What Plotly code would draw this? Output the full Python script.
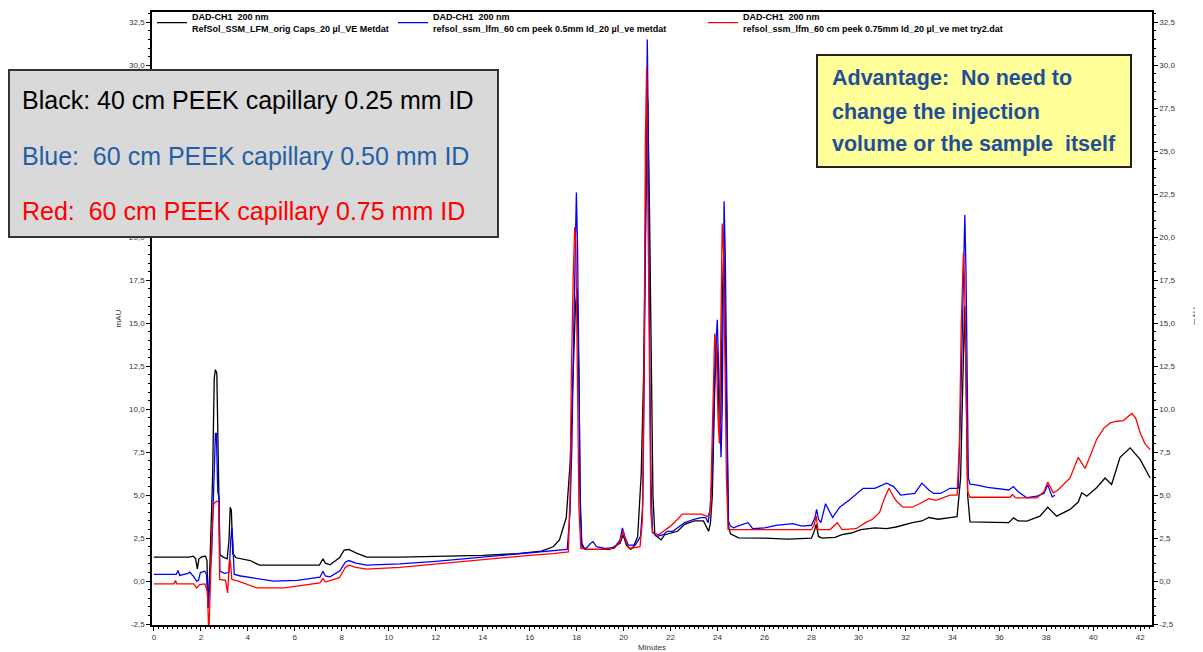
import plotly.graph_objects as go

# ---------------- data ----------------
black_t = [0.0, 1.5, 1.68, 1.78, 1.85, 1.92, 2.05, 2.2, 2.26, 2.31, 2.36, 2.42, 2.5, 2.57, 2.62, 2.68, 2.72, 2.77, 2.81,
           2.95, 3.12, 3.2, 3.25, 3.3, 3.36, 3.5, 4.1, 4.5, 7.05, 7.2, 7.3, 7.5, 7.9, 8.1, 8.3, 8.6, 9.06, 10.5,
           12.0, 14.0, 15.5, 16.5, 17.0, 17.27, 17.56, 17.73, 17.85, 17.95, 18.02, 18.1, 18.15, 18.22, 18.35,
           18.8, 19.4, 19.85, 19.98, 20.12, 20.3, 20.42, 20.6, 20.75, 20.85, 20.95, 21.03, 21.1, 21.17, 21.25, 21.33,
           21.5, 21.6, 21.75, 22.0, 22.3, 22.6, 23.0, 23.4, 23.55, 23.62, 23.7, 23.78, 23.86, 23.94, 24.0, 24.08,
           24.14, 24.2, 24.27, 24.33, 24.4, 24.47, 24.55, 24.9, 26.0, 27.0, 28.0, 28.12, 28.2, 28.3, 28.45, 29.0,
           29.3, 29.7, 30.1, 30.7, 31.2, 31.6, 32.3, 32.7, 33.0, 33.4, 33.9, 34.2, 34.35, 34.45, 34.52, 34.58,
           34.65, 34.75, 36.4, 36.6, 36.8, 37.17, 37.73, 38.06, 38.2, 38.44, 39.01, 39.36, 39.51, 39.72, 40.14,
           40.5, 40.78, 41.14, 41.57, 42.0, 42.42]
black_v = [1.40, 1.40, 1.45, 1.3, 0.72, 1.3, 1.42, 1.45, 1.2, -1.55, -0.2, 2.3, 6.0, 11.8, 12.3, 12.1, 9.0, 4.0, 1.55,
           1.4, 1.3, 2.4, 4.3, 4.1, 1.6, 1.36, 1.2, 0.93, 0.93, 1.3, 1.05, 0.95, 1.36, 1.8, 1.84, 1.65, 1.4, 1.4,
           1.45, 1.5, 1.6, 1.75, 2.0, 2.4, 3.7, 7.0, 12.0, 16.0, 17.0, 12.0, 5.0, 2.2, 1.85,
           1.85, 1.85, 2.2, 2.7, 2.1, 1.85, 2.0, 2.6, 6.2, 11.9, 22.0, 28.0, 22.0, 13.0, 5.0, 2.7,
           2.5, 2.4, 2.7, 2.8, 2.9, 3.3, 3.5, 3.5, 3.1, 2.9, 3.4, 5.0, 10.0, 14.0, 13.0, 9.0,
           9.5, 16.0, 19.5, 15.0, 8.0, 3.2, 2.75, 2.52, 2.5, 2.45, 2.5, 2.9, 3.3, 2.6, 2.5, 2.55,
           2.7, 2.8, 3.0, 3.1, 3.05, 3.15, 3.4, 3.5, 3.7, 3.6, 3.7, 3.75, 6.0, 12.0, 16.0, 12.0,
           5.0, 3.45, 3.4, 3.68, 3.5, 3.49, 3.78, 4.3, 4.1, 3.78, 4.17, 4.6, 5.14, 4.94, 5.43,
           6.0, 5.62, 7.2, 7.75, 7.07, 6.0]

blue_t = [0.0, 0.95, 1.03, 1.1, 1.45, 1.53, 1.68, 1.82, 1.9, 1.98, 2.17, 2.24, 2.31, 2.38, 2.46, 2.53, 2.62, 2.66,
          2.72, 2.78, 2.81, 3.0, 3.2, 3.28, 3.32, 3.36, 3.42, 3.7, 4.4, 5.1, 6.1, 7.07, 7.2, 7.3, 7.5, 7.92, 8.15,
          8.3, 8.6, 9.06, 10.47, 12.0, 14.0, 16.0, 17.0, 17.6, 17.72, 17.8, 17.87, 17.93, 17.99, 18.04, 18.08, 18.12,
          18.16, 18.22, 18.4, 18.6, 18.7, 18.85, 19.2, 19.6, 19.85, 19.95, 20.05, 20.2, 20.5, 20.72, 20.82, 20.88,
          20.93, 20.97, 21.01, 21.04, 21.07, 21.12, 21.17, 21.23, 21.4, 21.7, 21.85, 22.1, 22.3, 22.6, 23.0, 23.3,
          23.5, 23.6, 23.68, 23.75, 23.82, 23.9, 23.99, 24.05, 24.15, 24.2, 24.28, 24.33, 24.39, 24.46, 24.55, 24.7,
          24.85, 25.3, 25.5, 26.0, 26.5, 27.2, 27.6, 28.0, 28.15, 28.22, 28.3, 28.4, 28.6, 28.75, 28.9, 29.2, 29.6,
          30.2, 30.7, 31.2, 31.5, 31.8, 32.4, 32.7, 33.0, 33.2, 33.5, 33.9, 34.25, 34.35, 34.45, 34.53, 34.58,
          34.63, 34.68, 34.75, 35.0, 35.5, 36.03, 36.4, 36.6, 36.8, 37.17, 37.6, 37.9, 38.06, 38.25, 38.37]
blue_v = [0.39, 0.39, 0.62, 0.33, 0.45, 0.52, 0.29, 0.0, 0.05, 0.5, 0.58, 0.4, -1.55, 0.4, 1.55, 4.65, 8.6, 8.6,
          5.2, 4.8, 0.58, 0.45, 0.5, 2.5, 3.1, 2.3, 0.39, 0.3, 0.15, 0.0, 0.05, 0.23, 0.58, 0.3, 0.25, 0.6, 1.1,
          1.2, 1.05, 0.93, 1.0, 1.15, 1.4, 1.65, 1.75, 1.85, 4.0, 8.0, 14.0, 17.5, 22.6, 19.4, 14.0, 7.9,
          3.8, 2.0, 1.9, 2.2, 2.3, 2.0, 1.9, 1.95, 2.4, 3.1, 2.6, 2.1, 2.1, 2.6, 4.5, 12.0,
          18.2, 26.2, 31.5, 27.7, 20.2, 12.0, 5.8, 2.9, 2.6, 2.7, 2.9, 2.9, 3.1, 3.4, 3.6, 3.7,
          3.7, 3.4, 4.2, 5.6, 8.5, 13.0, 15.2, 12.5, 7.2, 10.0, 22.1, 19.0, 10.0, 3.5, 3.2, 3.1,
          3.2, 3.4, 3.05, 3.1, 3.25, 3.35, 3.2, 3.25, 3.7, 4.17, 3.6, 3.4, 4.5, 4.1, 3.7, 4.3, 4.7,
          5.4, 5.4, 5.7, 5.5, 5.0, 5.1, 5.7, 5.3, 5.1, 5.1, 5.4, 5.4, 10.0, 16.0, 21.3, 18.0,
          12.0, 6.0, 5.64, 5.6, 5.45, 5.35, 5.3, 5.5, 5.2, 4.85, 4.95, 5.1, 5.6, 4.9, 5.0]

red_t = [0.0, 0.85, 0.92, 0.98, 1.7, 1.82, 1.95, 2.17, 2.28, 2.34, 2.4, 2.47, 2.55, 2.67, 2.76, 2.8, 3.05, 3.14,
         3.22, 3.27, 3.32, 3.6, 4.37, 5.55, 7.07, 7.2, 7.3, 7.9, 8.15, 8.3, 8.6, 9.06, 10.47, 12.0, 14.0, 16.0,
         17.0, 17.65, 17.72, 17.78, 17.86, 17.92, 17.97, 18.02, 18.1, 18.18, 18.5, 19.0, 19.6, 19.85, 19.98, 20.1,
         20.25, 20.7, 20.8, 20.87, 20.93, 20.98, 21.02, 21.08, 21.16, 21.23, 21.5, 21.8, 22.0, 22.3, 22.5, 23.3,
         23.6, 23.7, 23.78, 23.88, 23.95, 24.02, 24.08, 24.13, 24.2, 24.26, 24.32, 24.38, 24.45, 28.0, 28.12,
         28.2, 28.28, 28.8, 29.1, 29.3, 29.9, 30.3, 30.6, 30.9, 31.1, 31.3, 31.5, 31.65, 31.9, 32.3, 32.6, 33.0,
         33.3, 33.9, 34.2, 34.3, 34.38, 34.47, 34.52, 34.58, 34.65, 34.75, 36.46, 36.55, 36.7, 37.6, 37.9, 38.06,
         38.3, 38.5, 39.01, 39.36, 39.5, 39.65, 39.9, 40.14, 40.45, 40.72, 41.0, 41.28, 41.64, 41.8, 42.0, 42.2,
         42.42]
red_v = [-0.16, -0.16, 0.04, -0.16, -0.16, -0.39, -0.2, -0.16, -0.6, -3.2, -0.5, 3.0, 4.5, 4.65, 4.6, 0.1, 0.05, -0.68,
         1.28, 1.0, 0.1, 0.0, -0.39, -0.39, -0.1, 0.16, -0.05, 0.2, 0.8, 0.93, 0.8, 0.7, 0.8, 1.0, 1.25, 1.5,
         1.6, 1.7, 5.0, 12.4, 18.0, 20.6, 19.6, 12.0, 4.2, 1.9, 1.85, 1.85, 1.9, 2.3, 2.9, 2.3,
         1.9, 2.0, 3.5, 12.0, 25.8, 29.9, 24.3, 14.1, 4.0, 2.8, 2.7, 3.0, 3.2, 3.6, 3.9, 3.9,
         3.75, 4.2, 9.0, 14.4, 13.5, 9.5, 8.0, 13.0, 20.8, 19.0, 13.0, 6.0, 3.0, 3.0, 3.3,
         3.8, 3.0, 3.0, 3.4, 3.0, 3.05, 3.4, 3.6, 4.0, 4.8, 5.4, 4.9, 4.6, 4.3, 4.3, 4.5, 4.8,
         4.7, 5.0, 5.0, 8.0, 15.0, 19.1, 17.5, 10.0, 5.2, 4.88, 4.88, 5.04, 4.84, 4.84, 5.2, 5.76,
         5.14, 5.3, 6.0, 7.2, 6.9, 6.55, 7.4, 8.24, 8.9, 9.2, 9.3, 9.34, 9.75, 9.5, 8.6, 8.0,
         7.65]

series_names = [
    "DAD-CH1\u00a0\u00a0200 nm<br>RefSol_SSM_LFM_orig Caps_20 µl_VE Metdat",
    "DAD-CH1\u00a0\u00a0200 nm<br>refsol_ssm_lfm_60 cm peek 0.5mm Id_20 µl_ve metdat",
    "DAD-CH1\u00a0\u00a0200 nm<br>refsol_ssm_lfm_60 cm peek 0.75mm Id_20 µl_ve met try2.dat",
]
series_colors = ["#000000", "#0000ff", "#ff0000"]

y_ticks = [-2.5, 0.0, 2.5, 5.0, 7.5, 10.0, 12.5, 15.0, 17.5, 20.0, 22.5, 25.0, 27.5, 30.0, 32.5]
y_ticktext = ["-2,5", "0,0", "2,5", "5,0", "7,5", "10,0", "12,5", "15,0", "17,5", "20,0",
              "22,5", "25,0", "27,5", "30,0", "32,5"]
x_ticks = list(range(0, 43, 2))
x_ticktext = [str(v) for v in x_ticks]

gray_box_lines = ["Black: 40 cm PEEK capillary 0.25 mm ID",
                  "Blue:\u00a0\u00a060 cm PEEK capillary 0.50 mm ID",
                  "Red:\u00a0\u00a060 cm PEEK capillary 0.75 mm ID"]
gray_box_colors = ["#000000", "#1f5fa6", "#ff0000"]
yellow_box_lines = ["Advantage:\u00a0\u00a0No need to",
                    "change the injection",
                    "volume or the sample\u00a0\u00a0itself"]

# ---------------- figure ----------------
# the page places the figure 8 px from the top-left corner, so the figure is 8 px smaller
FONT = "Liberation Sans, Arial, sans-serif"
fig = go.Figure()
data = [(black_t, black_v), (blue_t, blue_v), (red_t, red_v)]
legends = ["legend", "legend2", "legend3"]
yaxes = ["y", "y", "y2"]
for (t, v), name, col, lg, ya in zip(data, series_names, series_colors, legends, yaxes):
    fig.add_trace(go.Scatter(x=t, y=v, mode="lines", name=name, legend=lg, yaxis=ya,
                             line=dict(color=col, width=1.3)))

YR = [-2.55, 33.1]
XR = [-0.08, 42.5]
axis_common = dict(showgrid=False, zeroline=False, showline=True, linecolor="black", linewidth=1.5,
                   ticks="outside", ticklen=4, tickwidth=1, tickcolor="black", automargin=False,
                   tickfont=dict(family=FONT, size=8, color="#333333"))
fig.update_layout(
    width=1195, height=644,
    margin=dict(l=144, r=51, t=4, b=27, autoexpand=False),
    paper_bgcolor="white", plot_bgcolor="white",
    font=dict(family=FONT, color="black"),
    xaxis=dict(range=XR, tickvals=x_ticks, ticktext=x_ticktext, mirror=True,
               minor=dict(dtick=0.2, tick0=0, ticklen=2, tickcolor="black", ticks="outside"),
               title=dict(text="Minutes", font=dict(size=8, color="#333333"), standoff=4),
               **axis_common),
    yaxis=dict(range=YR, tickvals=y_ticks, ticktext=y_ticktext,
               minor=dict(dtick=0.5, tick0=0, ticklen=2, tickcolor="black", ticks="outside"),
               title=dict(text="mAU", font=dict(size=8, color="#333333"), standoff=6),
               **axis_common),
    yaxis2=dict(range=YR, tickvals=y_ticks, ticktext=y_ticktext, overlaying="y", side="right",
                anchor="x",
                minor=dict(dtick=0.5, tick0=0, ticklen=2, tickcolor="black", ticks="outside"),
                **axis_common),
    showlegend=True,
)
leg_common = dict(orientation="h", yanchor="top", y=1.0123, xanchor="left", bgcolor="rgba(0,0,0,0)",
                  font=dict(family=FONT, size=9, color="black", weight="bold"), borderwidth=0)
fig.update_layout(legend=dict(x=0.0, **leg_common),
                  legend2=dict(x=0.241, **leg_common),
                  legend3=dict(x=0.551, **leg_common))

W, H = 1000.0, 613.0
def px(xp):
    return (xp - 152) / W
def py(yp):
    return (625 - yp) / H

shapes = [
    dict(type="rect", xref="paper", yref="paper", x0=px(9), x1=px(498), y0=py(237), y1=py(70),
         fillcolor="#d9d9d9", line=dict(color="#333333", width=2), layer="above"),
    dict(type="rect", xref="paper", yref="paper", x0=px(817), x1=px(1131), y0=py(167), y1=py(55),
         fillcolor="#ffff99", line=dict(color="#222222", width=2), layer="above"),
]
fig.update_layout(shapes=shapes)

annotations = []
for txt, col, yp in zip(gray_box_lines, gray_box_colors, [100, 156, 211]):
    annotations.append(dict(text=txt, xref="paper", yref="paper", x=px(20), y=py(yp), xanchor="left",
                            yanchor="middle", showarrow=False,
                            font=dict(family=FONT, size=25, color=col)))
for txt, yp in zip(yellow_box_lines, [78, 112, 144]):
    annotations.append(dict(text="<b>" + txt + "</b>", xref="paper", yref="paper", x=px(830), y=py(yp),
                            xanchor="left", yanchor="middle", showarrow=False,
                            font=dict(family=FONT, size=21.5, color="#1f4f96")))
annotations.append(dict(text="mAU", xref="paper", yref="paper", x=px(1195), y=py(316), textangle=-90,
                        xanchor="center", yanchor="middle", showarrow=False,
                        font=dict(family=FONT, size=8, color="#333333")))
fig.update_layout(annotations=annotations)

fig.write_html("out.html")
